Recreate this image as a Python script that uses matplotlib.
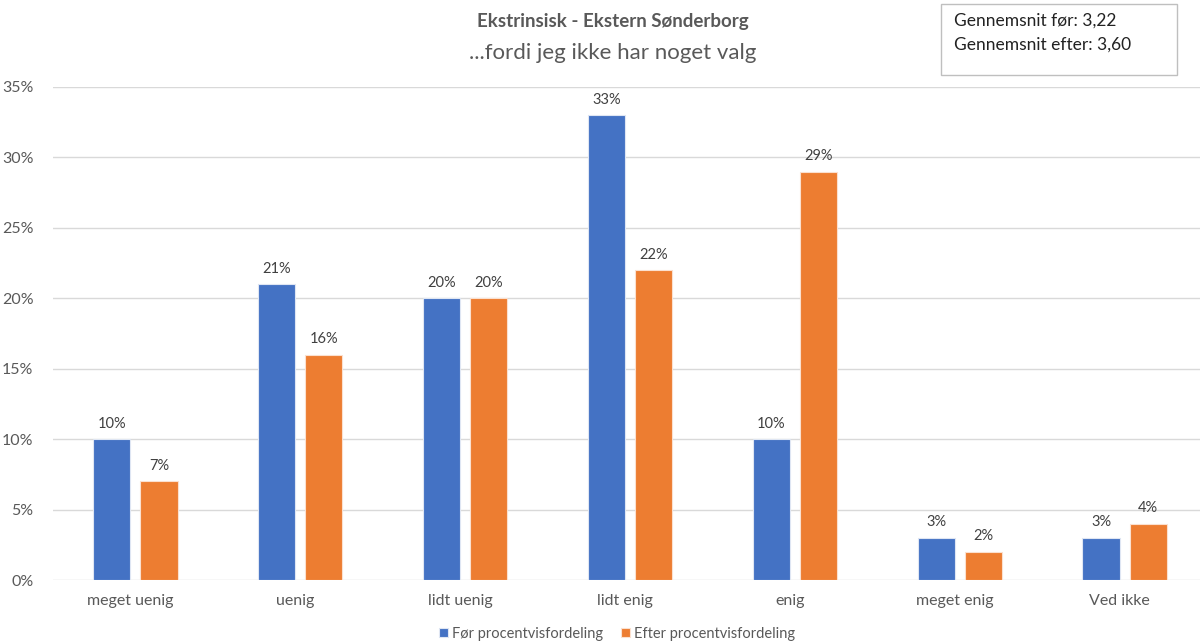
import matplotlib
matplotlib.use("Agg")
import matplotlib.pyplot as plt
import matplotlib.transforms as mtransforms
import numpy as np

plt.rcParams['font.family'] = ['Lato', 'DejaVu Sans']

categories = ["meget uenig", "uenig", "lidt uenig", "lidt enig", "enig", "meget enig", "Ved ikke"]
foer = [10, 21, 20, 33, 10, 3, 3]
efter = [7, 16, 20, 22, 29, 2, 4]
yticks = [0, 5, 10, 15, 20, 25, 30, 35]
series_names = ["Før procentvisfordeling", "Efter procentvisfordeling"]
title = "Ekstrinsisk - Ekstern Sønderborg"
subtitle = "...fordi jeg ikke har noget valg"
info_lines = ["Gennemsnit før: 3,22", "Gennemsnit efter: 3,60"]

BLUE = "#4472C4"
ORANGE = "#ED7D31"
TEXT = "#595959"

W, H = 1200, 644
fig = plt.figure(figsize=(W / 100, H / 100), dpi=100)
ax = fig.add_axes([53 / W, 1 - 580 / H, 1154 / W, (580 - 87) / H])

x = np.arange(len(categories))
bw = 0.2245
off = 0.143
b1 = ax.bar(x - off, foer, bw, color=BLUE, edgecolor="#dfe6f3", linewidth=0.8, zorder=3,
            label=series_names[0])
b2 = ax.bar(x + off, efter, bw, color=ORANGE, edgecolor="#fbe0cf", linewidth=0.8, zorder=3,
            label=series_names[1])

for bars, vals in ((b1, foer), (b2, efter)):
    for rect, v in zip(bars, vals):
        ax.annotate(f"{v}%", (rect.get_x() + rect.get_width() / 2, v),
                    xytext=(0, 6), textcoords="offset points",
                    ha="center", va="bottom", fontsize=10.5, color="#404040")

ax.set_xlim(-0.5, len(categories) - 0.5)
ax.set_ylim(0, 35)
ax.set_yticks(yticks)
ax.set_yticklabels([f"{t}%" for t in yticks])
ax.set_xticks(x)
ax.set_xticklabels(categories)
ax.tick_params(axis="both", length=0, labelsize=11.5, colors=TEXT)
ax.tick_params(axis="y", pad=14)
ax.tick_params(axis="x", pad=10)
shift = mtransforms.ScaledTranslation(-5 / 100, 0, fig.dpi_scale_trans)
for lbl in ax.get_xticklabels():
    lbl.set_transform(lbl.get_transform() + shift)
ax.grid(axis="y", color="#D9D9D9", linewidth=1, zorder=0)
for s in ax.spines.values():
    s.set_visible(False)

fig.text(613 / W, 1 - 22 / H, title, ha="center", va="center",
         fontsize=13.5, fontweight="bold", color=TEXT)
fig.text(613 / W, 1 - 53 / H, subtitle, ha="center", va="center",
         fontsize=16, color=TEXT)

# box with the averages
box = plt.Rectangle((941 / W, 1 - 75 / H), (1177 - 941) / W, (75 - 4) / H,
                    transform=fig.transFigure, facecolor="white",
                    edgecolor="#BFBFBF", linewidth=1)
fig.add_artist(box)
fig.text(954 / W, 1 - 21 / H, info_lines[0], ha="left", va="center", fontsize=12.5, color="#222222")
fig.text(954 / W, 1 - 45 / H, info_lines[1], ha="left", va="center", fontsize=12.5, color="#222222")

fig.legend(handles=[b1, b2], labels=series_names, loc="center", bbox_to_anchor=(617 / W, 1 - 634 / H),
           ncol=2, frameon=False, fontsize=10.5, handlelength=0.6, handleheight=0.6,
           handletextpad=0.3, columnspacing=1.2, labelcolor=TEXT)

fig.savefig("out.png", dpi=100, facecolor="white")
